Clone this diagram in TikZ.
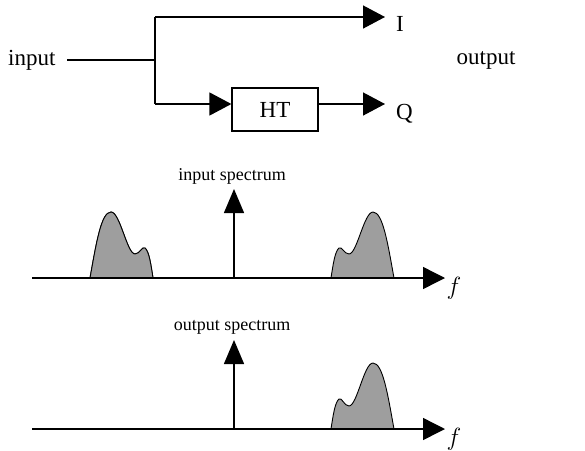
\documentclass[tikz,border=0pt]{standalone}
\usepackage{fontspec}
\setmainfont{Liberation Serif}
\usetikzlibrary{arrows.meta}
\begin{document}
\begin{tikzpicture}[x=1pt,y=-1pt,
  wire/.style={line width=1.4pt},
  harrow/.style={wire,-{Triangle[length=22pt,width=23pt]}},
  varrow/.style={wire,-{Triangle[length=24pt,width=20pt]}},
  aarrow/.style={wire,-{Triangle[length=22pt,width=22pt]}},
  big/.style={font=\fontsize{23}{27}\selectfont, inner sep=0pt},
  small/.style={font=\fontsize{18}{21}\selectfont, inner sep=0pt},
  bump/.style={fill=black!38, draw=black, line width=0.9pt}]
\useasboundingbox (0,0) rectangle (585,450);
% block diagram
\node[big, anchor=west] (inp) at (8,60) {input};
\coordinate (j) at (155,60);
\coordinate (jt) at (155,17);
\coordinate (jb) at (155,104);
\node[draw, line width=1.2pt, minimum width=86pt, minimum height=43pt, big] (ht) at (275,109.5) {HT};
\node[big, anchor=west] (I) at (396,24) {I};
\node[big, anchor=west] (Q) at (396,114) {Q};
\node[big] (out) at (486,60) {output};
\coordinate (Iend) at (385,17);
\coordinate (Qend) at (385,104);
\draw[wire] (67,60) -- (j);
\draw[wire] (jt) -- (jb);
\draw[harrow] (jt) -- (Iend);
\draw[harrow] (jb) -- (ht.west |- jb);
\draw[harrow] (ht.east |- jb) -- (Qend);
% input spectrum
\coordinate (a1s) at (32,278);
\coordinate (a1e) at (445,278);
\coordinate (v1b) at (234,278);
\coordinate (v1t) at (234,189);
\fill[bump] (90,278) .. controls (96,245) and (101,212) .. (111,212) .. controls (120,212) and (127,254) .. (135,254) .. controls (140,254) and (142,246) .. (145,248) .. controls (149,251) and (151,265) .. (153,278) -- cycle;
\fill[bump] (394,278) .. controls (388,245) and (383,212) .. (373,212) .. controls (364,212) and (357,254) .. (349,254) .. controls (344,254) and (342,246) .. (339,248) .. controls (335,251) and (333,265) .. (331,278) -- cycle;
\draw[bump] (90,278) .. controls (96,245) and (101,212) .. (111,212) .. controls (120,212) and (127,254) .. (135,254) .. controls (140,254) and (142,246) .. (145,248) .. controls (149,251) and (151,265) .. (153,278);
\draw[aarrow] (a1s) -- (a1e);
\draw[varrow] (v1b) -- (v1t);
\node[small] (l1) at (232,176) {input spectrum};
\node[big] (f1) at (454,288) {$f$};
% output spectrum
\coordinate (a2s) at (32,429);
\coordinate (a2e) at (445,429);
\coordinate (v2b) at (234,429);
\coordinate (v2t) at (234,340);
\fill[bump] (394,429) .. controls (388,396) and (383,363) .. (373,363) .. controls (364,363) and (357,406) .. (349,406) .. controls (344,406) and (342,397) .. (339,399) .. controls (335,402) and (333,416) .. (331,429) -- cycle;
\draw[aarrow] (a2s) -- (a2e);
\draw[varrow] (v2b) -- (v2t);
\node[small] (l2) at (232,327) {output spectrum};
\node[big] (f2) at (454,439) {$f$};
\end{tikzpicture}
\end{document}
